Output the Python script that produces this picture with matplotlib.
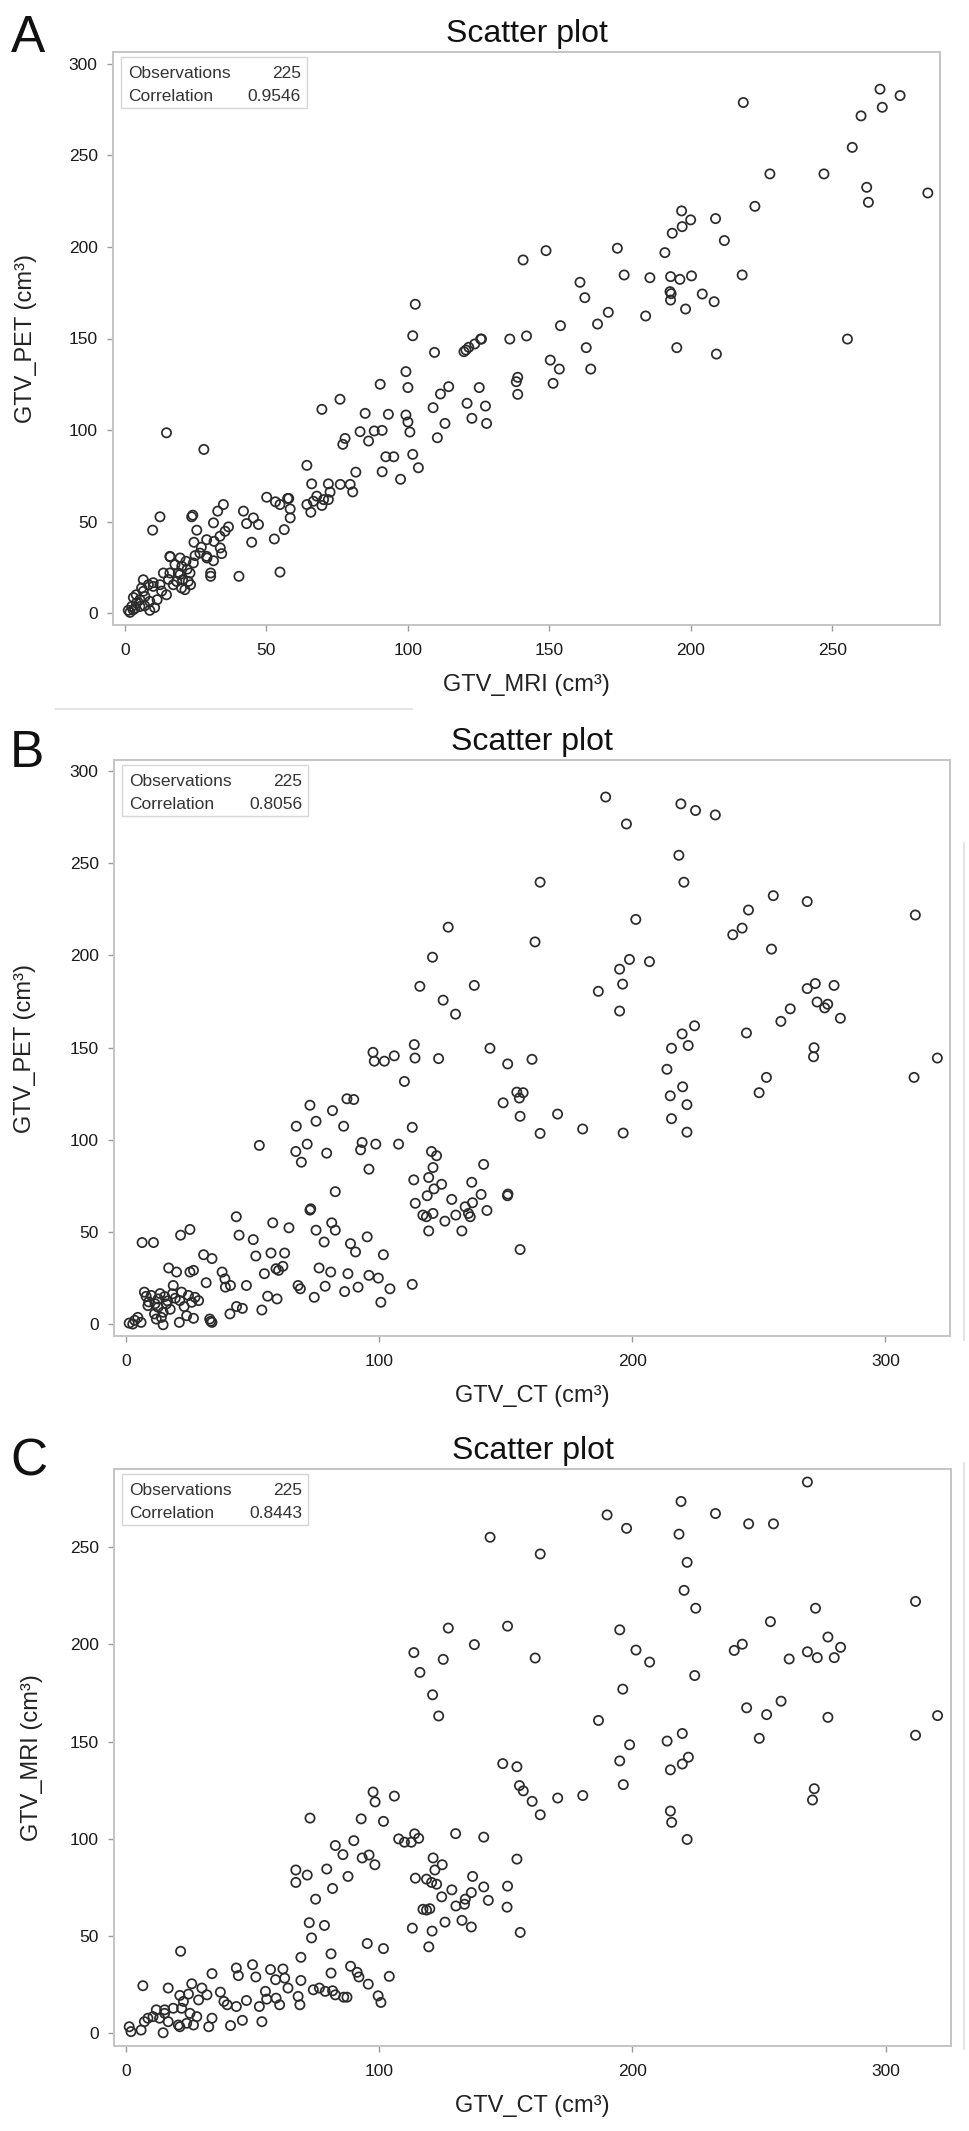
import matplotlib
matplotlib.use("Agg")
import matplotlib.pyplot as plt
from matplotlib.patches import Rectangle
from matplotlib.lines import Line2D

plt.rcParams['font.family'] = ['Liberation Sans', 'DejaVu Sans']

# ---- panel A: GTV_MRI (x) against GTV_PET (y) ----
mri_a = [266.8, 273.9, 260.1, 267.6, 218.5, 257.0, 227.9, 247.0, 262.1, 262.7, 283.7, 222.6,
         196.7, 199.9, 196.9, 193.4, 208.7, 211.8, 190.8, 174.0, 148.8, 140.7, 176.4, 185.5,
         192.8, 196.1, 200.2, 218.1, 160.8, 162.5, 192.6, 193.0, 192.8, 198.1, 204.0, 208.2,
         170.8, 167.0, 184.0, 153.9, 141.9, 136.0, 126.0, 255.3, 163.0, 195.0, 209.0,
         102.6, 101.7, 109.4, 119.8, 120.5, 121.5, 123.6, 125.7, 150.3, 153.5, 151.3, 164.6,
         138.8, 138.3, 138.8, 99.3, 100.0, 90.2, 114.4, 111.5, 125.2, 108.9, 120.9, 127.4,
         122.6, 127.8, 113.1, 110.4, 93.1, 99.3, 100.0, 100.7, 90.9, 92.2, 95.0, 90.9, 101.7,
         103.7, 97.4,
         69.6, 76.0, 14.7, 27.9, 64.3, 77.8, 77.0, 83.1, 84.9, 86.1, 88.1, 81.6, 80.5, 66.0,
         71.9, 76.1, 79.6, 72.5, 69.6, 65.7, 64.3, 66.6, 67.8, 70.2, 71.9, 50.1, 54.8, 57.5,
         58.4, 58.4, 41.9, 45.4, 43.0, 47.2, 56.3, 52.8, 44.8, 54.8, 40.3, 34.8, 32.8, 36.6,
         31.3, 23.6, 24.0, 12.4, 9.8, 25.4, 24.4, 28.9, 31.5, 33.6, 35.4, 30.3, 30.3, 34.2,
         31.3, 28.9, 26.5, 24.8, 21.6, 24.2, 19.5, 15.9, 17.7, 13.6, 15.9, 18.9, 20.4, 22.4,
         18.3, 20.0, 21.2, 23.2, 23.0, 17.1, 14.7, 11.4, 6.5, 8.3, 5.9, 10.0, 12.4, 8.8, 8.8,
         7.1, 5.3, 4.1, 2.4, 1.2, 2.9, 5.3, 1.8, 6.5,
         33.7, 29.0, 16.0, 20.1, 19.5, 15.4, 10.0, 3.0, 53.2, 57.9, 27.0, 22.0, 13.0, 4.0,
         7.0, 3.5, 10.5]
pet_a = [286.2, 282.7, 271.6, 276.3, 278.9, 254.4, 239.9, 239.9, 232.6, 224.4, 229.5, 222.2,
         219.7, 214.8, 211.1, 207.5, 215.5, 203.5, 196.9, 199.3, 198.0, 192.9, 184.7, 183.2,
         183.8, 182.3, 184.2, 184.7, 180.7, 172.3, 175.6, 174.5, 171.0, 166.1, 174.3, 170.1,
         164.3, 157.9, 162.3, 157.0, 151.4, 149.7, 149.7, 149.7, 145.0, 145.0, 141.5,
         168.7, 151.5, 142.4, 142.8, 143.7, 145.2, 147.0, 149.7, 138.2, 133.3, 125.5, 133.3,
         128.8, 126.4, 119.5, 131.9, 123.2, 125.0, 123.7, 119.7, 123.2, 112.2, 114.6, 113.1,
         106.4, 103.6, 103.6, 95.8, 108.6, 108.2, 104.4, 98.9, 99.8, 85.4, 85.4, 77.2, 86.7,
         79.4, 73.1,
         111.3, 116.8, 98.5, 89.4, 80.7, 95.4, 92.2, 99.1, 109.1, 94.0, 99.5, 77.0, 66.2, 70.6,
         70.6, 70.3, 70.3, 66.1, 58.8, 55.1, 59.3, 61.1, 63.9, 62.0, 62.0, 63.3, 59.3, 62.6,
         56.9, 52.0, 55.7, 52.0, 48.9, 48.4, 45.6, 40.5, 38.7, 22.4, 20.1, 59.3, 55.7, 47.1,
         49.3, 52.6, 53.5, 52.6, 45.3, 45.3, 38.7, 40.1, 39.2, 42.0, 44.7, 20.1, 21.9, 32.5,
         28.6, 31.0, 32.8, 31.4, 28.3, 27.4, 30.1, 31.0, 26.5, 21.9, 21.9, 21.9, 18.2, 17.3,
         17.3, 13.7, 12.8, 15.5, 21.9, 15.5, 10.0, 7.3, 18.2, 15.5, 13.7, 14.6, 15.5, 1.5, 6.4,
         9.1, 7.3, 5.5, 3.6, 1.5, 1.8, 3.6, 0.4, 11.9,
         35.6, 30.1, 30.7, 25.6, 21.1, 18.4, 16.6, 8.5, 60.8, 62.6, 36.0, 24.0, 12.0, 10.0,
         4.0, 2.5, 3.0]

# ---- panel B: GTV_CT (x) against GTV_PET (y) ----
ct_b = [189.5, 219.2, 225.0, 232.8, 197.7, 218.4, 163.6, 220.4, 255.7, 269.1, 245.9, 311.8,
        201.4, 127.3, 243.4, 239.7, 161.6, 255.0, 121.1, 198.9, 206.8, 195.0, 196.2, 186.6,
        116.1, 137.6, 272.3, 279.7, 269.1, 125.3, 130.2, 195.0, 273.0, 277.2, 276.0, 262.4,
        258.7, 282.2, 224.6, 219.7, 245.1, 215.5, 222.1, 271.8, 271.6, 320.5, 143.8, 150.8,
        160.4, 123.5, 97.6, 98.1, 102.1, 106.0, 113.9, 114.2, 110.0, 213.7, 253.0, 311.3,
        250.1, 219.9, 215.0, 221.6, 215.5, 221.6, 196.4, 163.6, 180.4, 170.5, 154.4, 155.4,
        156.9, 149.0, 155.7, 155.7, 150.7, 150.9, 141.3, 142.6, 140.3, 136.6,
        113.1, 120.7, 122.7, 121.3, 119.6, 121.7, 119.0, 124.7, 113.7, 114.3, 117.3, 118.7,
        121.3, 119.6, 126.0, 128.7, 130.3, 132.7, 134.0, 135.3, 136.9, 136.0, 82.7, 72.7,
        73.0, 52.7, 67.3, 71.6, 67.1, 69.3, 75.1, 79.3, 81.6, 86.0, 72.7, 87.3, 90.0, 93.3,
        98.7, 92.7, 96.0, 107.7, 43.6, 58.0, 44.7, 50.3, 64.4, 75.1, 81.3, 82.7, 78.3, 88.7,
        90.7, 95.3, 101.7, 30.7, 34.0, 38.0, 39.1, 39.3, 41.3, 47.6, 31.7, 6.4, 10.9, 21.6,
        25.3, 51.3, 57.3, 62.7, 54.7, 59.3, 62.0, 60.3, 76.3, 80.9, 87.7, 96.0, 99.7, 78.7,
        68.0, 68.9, 91.7, 86.4, 104.3, 113.1, 100.7, 74.4, 56.0, 59.7, 53.7, 46.0, 43.7, 41.1,
        33.1, 34.0, 26.7, 21.1, 14.7, 6.0, 4.7, 1.3, 2.7, 24.0, 16.9, 20.0, 25.3, 26.7, 18.7,
        18.4, 22.0, 24.7, 27.3, 28.7, 26.0, 21.3, 7.3, 10.0, 12.7, 15.3, 8.7, 12.7, 14.7, 11.3,
        16.0, 14.0, 12.0, 9.0, 11.5, 13.5, 16.5, 19.5, 8.0, 17.5, 23.0, 33.5, 3.5]
pet_b = [285.9, 282.2, 278.6, 276.2, 271.3, 254.3, 239.7, 239.7, 232.4, 229.2, 224.6, 221.9,
         219.5, 215.3, 214.8, 211.2, 207.3, 203.4, 199.0, 197.8, 196.6, 192.5, 184.4, 180.5,
         183.2, 183.7, 184.7, 183.7, 182.0, 175.7, 168.1, 169.8, 174.7, 173.5, 171.5, 171.0,
         164.2, 165.9, 161.8, 157.4, 157.9, 149.6, 151.1, 149.9, 145.0, 144.3, 149.6, 141.1,
         143.6, 144.0, 147.4, 142.6, 142.6, 145.5, 151.6, 144.3, 131.6, 138.2, 133.8, 133.8,
         125.5, 128.7, 123.8, 119.0, 111.4, 104.1, 103.6, 103.4, 105.8, 113.9, 125.8, 122.6,
         125.5, 120.0, 112.7, 40.4, 69.6, 70.5, 86.6, 61.6, 70.3, 76.9,
         106.7, 93.6, 91.3, 84.9, 79.5, 73.3, 69.6, 75.8, 78.2, 65.5, 59.1, 58.2,
         60.0, 50.5, 55.8, 67.6, 59.1, 50.5, 63.6, 60.0, 65.8, 58.2, 71.8, 61.8,
         62.5, 96.9, 107.3, 97.6, 93.6, 87.8, 110.0, 92.7, 115.8, 107.3, 118.7, 122.2, 121.8, 98.5,
         97.6, 94.5, 84.0, 97.6, 58.2, 54.9, 48.2, 45.8, 52.2, 50.9, 54.9, 50.9, 44.5, 43.6,
         39.1, 47.3, 37.6, 37.6, 35.5, 28.2, 24.5, 20.0, 20.9, 20.9, 22.4, 44.2, 44.2, 48.2,
         51.3, 36.9, 38.5, 38.5, 27.3, 30.0, 31.3, 29.1, 30.4, 28.2, 27.3, 26.4, 24.9, 20.5,
         20.9, 19.1, 20.0, 17.6, 19.1, 21.5, 11.8, 14.5, 15.1, 13.6, 7.6, 8.5, 9.5, 5.5,
         2.7, 0.9, 3.1, 0.9, -0.4, 0.9, 3.6, 0.5, 0.0, 4.5, 30.4, 28.2, 28.2, 29.1, 20.9,
         16.4, 17.3, 15.5, 14.5, 12.7, 11.8, 12.7, 17.3, 15.5, 13.6, 14.9, 10.0, 9.1, 6.4, 5.5,
         10.9, 3.6, 2.7, 12.0, 11.0, 16.5, 12.5, 14.0, 15.0, 8.0, 9.5, 1.5, 2.0]

# ---- panel C: GTV_CT (x) against GTV_MRI (y) ----
ct_c = [269.1, 219.2, 232.8, 190.0, 197.7, 245.9, 255.7, 218.4, 143.8, 163.6, 221.6, 220.4,
        311.8, 225.0, 272.3, 254.5, 127.3, 150.7, 195.0, 277.2, 137.6, 243.4, 201.4, 240.2,
        113.7, 269.1, 273.0, 279.7, 282.2, 261.9, 161.6, 125.3, 206.8, 116.1, 224.6, 196.2,
        121.1, 258.7, 245.1, 253.0, 123.5, 277.2, 320.5, 186.6, 311.8, 219.7, 250.1, 213.7,
        198.9, 222.1, 219.7, 215.0, 195.0, 148.8, 154.4, 196.4, 271.8, 271.1, 155.4, 156.9,
        160.4, 170.5, 180.4, 163.6, 215.0, 215.5, 221.6, 141.3, 130.2, 154.4, 150.7, 150.5,
        155.7,
        97.6, 98.4, 106.0, 72.7, 92.9, 101.7, 90.0, 82.7, 85.7, 93.3, 96.0, 98.3, 107.7, 110.0,
        112.7, 114.0, 115.6, 121.3, 124.9, 122.0, 67.1, 71.6, 67.1, 79.3, 87.7, 81.6, 74.9,
        114.3, 118.7, 120.7, 122.7, 136.9, 141.3, 128.7, 124.7, 136.4, 134.0, 143.1, 130.3,
        133.7, 118.7, 117.3, 120.0, 132.7, 136.4, 126.0, 120.9, 113.1, 119.6, 72.4, 78.4, 73.3,
        95.3, 101.7, 69.1, 81.0, 81.0, 88.7, 91.3, 92.0, 95.7, 104.0, 99.6, 100.7, 69.1, 21.6,
        6.7, 34.0, 43.6, 44.4, 50.0, 51.3, 57.1, 62.0, 59.1, 62.7, 64.0, 55.1, 68.0, 68.7, 74.0,
        76.4, 78.7, 81.6, 82.7, 86.0, 87.3, 37.3, 38.7, 40.0, 43.6, 47.6, 52.7, 55.6, 59.3,
        60.7, 34.0, 32.7, 41.3, 46.0, 53.7, 16.7, 26.0, 30.0, 21.3, 24.7, 32.0, 28.7, 22.7,
        12.0, 15.3, 18.7, 22.0, 25.3, 28.0, 10.7, 13.3, 16.7, 20.7, 24.0, 26.7, 15.3, 8.7, 7.3,
        6.0, 1.3, 2.0, 14.7, 21.3]
mri_c = [283.5, 273.5, 267.3, 266.6, 259.7, 262.0, 262.0, 256.7, 255.1, 246.5, 242.2, 227.8,
         222.1, 218.6, 218.6, 211.7, 208.4, 209.4, 207.5, 203.8, 199.9, 200.1, 197.1, 196.9,
         195.8, 196.2, 193.2, 193.2, 198.5, 192.5, 193.0, 192.3, 190.9, 185.6, 184.0, 177.0,
         174.1, 170.8, 167.4, 163.9, 163.2, 162.5, 163.4, 160.9, 153.3, 154.2, 151.7, 150.3,
         148.4, 142.0, 138.5, 135.5, 140.1, 138.7, 137.1, 127.9, 125.8, 120.0, 127.4, 124.7,
         119.3, 121.0, 122.3, 112.4, 114.3, 108.5, 99.7, 100.9, 102.7, 89.6, 75.7, 64.9,
         51.9,
         124.1, 119.0, 122.0, 110.7, 110.3, 109.0, 99.1, 96.6, 91.9, 90.2, 91.7, 86.7, 100.0, 98.3,
         98.3, 102.6, 100.3, 90.2, 86.7, 84.0, 84.0, 81.4, 77.6, 84.5, 80.7, 74.5, 69.0,
         79.8, 79.3, 77.6, 76.7, 80.7, 75.3, 73.8, 70.2, 72.4, 69.0, 68.4, 65.5,
         66.4, 63.4, 63.8, 64.1, 58.1, 54.7, 57.2, 52.6, 54.1, 44.5, 56.9, 55.5, 49.1,
         46.2, 43.6, 39.1, 40.9, 31.0, 34.5, 31.4, 29.0, 25.3, 29.3, 19.3, 15.9, 27.2, 42.2,
         24.5, 30.7, 33.6, 29.7, 35.3, 29.0, 32.8, 33.1, 27.6, 28.4, 23.3, 21.6, 19.0, 14.7, 22.4,
         23.3, 21.6, 21.9, 19.8, 18.6, 18.6, 21.2, 16.4, 14.7, 13.8, 16.9, 13.8, 17.6, 18.1,
         14.7, 7.8, 3.4, 4.0, 6.7, 6.0, 23.3, 25.5, 23.3, 19.5, 20.2, 19.8, 17.2, 16.4,
         12.1, 12.1, 12.9, 12.9, 10.3, 8.6, 8.6, 7.8, 6.0, 4.3, 5.2, 4.3, 10.3, 7.8, 6.0,
         1.7, 3.4, 0.9, 0.3, 3.4]

n_obs = 225
corr_values = ["0.9546", "0.8056", "0.8443"]
panel_letters = ["A", "B", "C"]

W, H = 969, 2131   # output size in pixels


def rect(l, t, r, b):
    return [l / W, 1 - b / H, (r - l) / W, (b - t) / H]


def draw_panel(fig, pos, x, y, xlim, ylim, xticks, yticks, xlabel, ylabel,
               letter, corr, letter_xy, ylabel_x):
    l, t, r, b = pos
    ax = fig.add_axes(rect(l, t, r, b))
    wpx, hpx = r - l, b - t
    ax.scatter(x, y, s=44, facecolors='none', edgecolors='#2b2b2b',
               linewidths=1.25, zorder=3)
    ax.set_xlim(*xlim)
    ax.set_ylim(*ylim)
    ax.set_xticks(xticks)
    ax.set_yticks(yticks)
    for sp in ax.spines.values():
        sp.set_color('#c4c4c4')
        sp.set_linewidth(1.4)
    ax.tick_params(direction='out', length=4.5, width=1.0, color='#9a9a9a',
                   labelsize=12.5, labelcolor='#1a1a1a')
    ax.tick_params(axis='x', pad=8.5)
    ax.tick_params(axis='y', pad=6.5)
    ax.set_title('Scatter plot', fontsize=23, pad=7.5, color='#111111')
    ax.set_xlabel(xlabel, fontsize=17, va='center', color='#222222')
    ax.xaxis.set_label_coords(0.5, -60 / hpx)
    ax.set_ylabel(ylabel, fontsize=17, va='center', color='#222222')
    ax.yaxis.set_label_coords((ylabel_x - l) / wpx, 0.5)

    # statistics inset
    bx, by, bw, bh = 8, 5, 186, 51
    ax.add_patch(Rectangle((bx / wpx, 1 - (by + bh) / hpx), bw / wpx, bh / hpx,
                           transform=ax.transAxes, facecolor='white',
                           edgecolor='#d6d6d6', linewidth=1.0, zorder=4))
    rows = [("Observations", str(n_obs)), ("Correlation", corr)]
    for i, (k, v) in enumerate(rows):
        yy = 1 - (26 + 23 * i) / hpx
        ax.text((bx + 7) / wpx, yy, k, transform=ax.transAxes, fontsize=12.5,
                va='baseline', ha='left', color='#333333', zorder=5)
        ax.text((bx + bw - 6) / wpx, yy, v, transform=ax.transAxes, fontsize=12.5,
                va='baseline', ha='right', color='#333333', zorder=5)

    fig.text(letter_xy[0] / W, 1 - letter_xy[1] / H, letter, fontsize=37,
             ha='left', va='baseline', color='#111111')
    return ax


fig = plt.figure(figsize=(W / 100, H / 100), dpi=100)

draw_panel(fig, (113, 52, 940, 625), mri_a, pet_a, (-4.2, 288), (-6.5, 306.5),
           [0, 50, 100, 150, 200, 250], [0, 50, 100, 150, 200, 250, 300],
           'GTV_MRI (cm³)', 'GTV_PET (cm³)', panel_letters[0], corr_values[0],
           (11, 52), 26)
draw_panel(fig, (114, 760, 950, 1336), ct_b, pet_b, (-4.7, 325.5), (-6.5, 306),
           [0, 100, 200, 300], [0, 50, 100, 150, 200, 250, 300],
           'GTV_CT (cm³)', 'GTV_PET (cm³)', panel_letters[1], corr_values[1],
           (10, 767), 25)
draw_panel(fig, (114, 1469, 951, 2046), ct_c, mri_c, (-4.7, 325.8), (-6.5, 290.2),
           [0, 100, 200, 300], [0, 50, 100, 150, 200, 250],
           'GTV_CT (cm³)', 'GTV_MRI (cm³)', panel_letters[2], corr_values[2],
           (10, 1475), 32)

# faint scan edges left in the source figure
fig.add_artist(Line2D([56 / W, 412 / W], [1 - 709 / H] * 2, color='#e4e4e4', lw=1.5))
fig.add_artist(Line2D([964 / W] * 2, [1 - 843 / H, 1 - 1340 / H], color='#dedede', lw=1.2))
fig.add_artist(Line2D([964 / W] * 2, [1 - 1463 / H, 1 - 2049 / H], color='#dedede', lw=1.2))

fig.savefig('out.png', dpi=100)
